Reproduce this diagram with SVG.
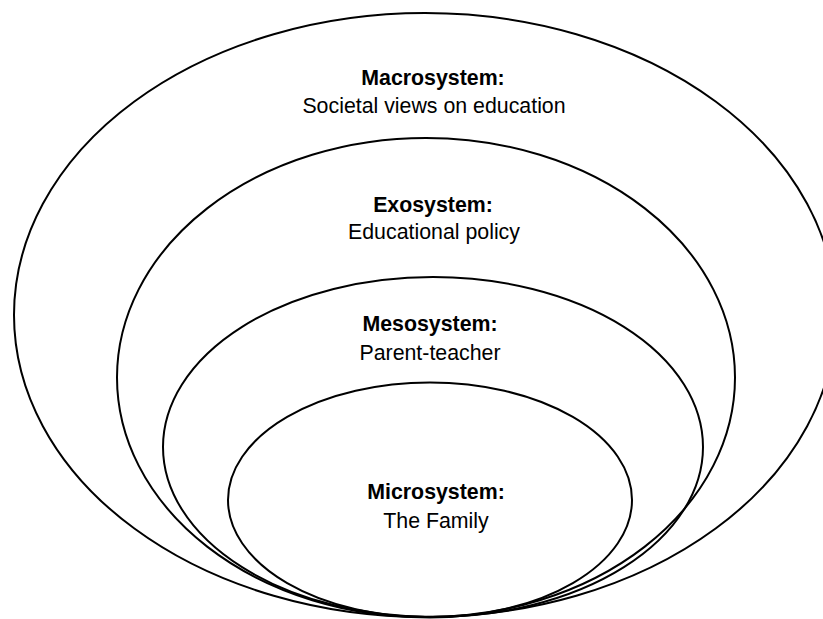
<svg xmlns="http://www.w3.org/2000/svg" width="823" height="619" viewBox="0 0 823 619">
<style>
.ring{fill:none;stroke:#000;stroke-width:2}
.t{font-family:"Liberation Sans",Arial,sans-serif;font-size:21.33px;text-anchor:middle;fill:#000}
.b{font-weight:bold}
</style>
<rect width="823" height="619" fill="#fff"/>
<g id="macrosystem">
<ellipse class="ring" cx="425" cy="315" rx="411" ry="302"/>
<text class="t b" x="433" y="85">Macrosystem:</text>
<text class="t" x="434" y="113">Societal views on education</text>
</g>
<g id="exosystem">
<ellipse class="ring" cx="426" cy="377.5" rx="309" ry="239.5"/>
<text class="t b" x="433" y="212">Exosystem:</text>
<text class="t" x="434" y="239">Educational policy</text>
</g>
<g id="mesosystem">
<ellipse class="ring" cx="433" cy="447" rx="270" ry="170"/>
<text class="t b" x="430" y="331">Mesosystem:</text>
<text class="t" x="430" y="360">Parent-teacher</text>
</g>
<g id="microsystem">
<ellipse class="ring" cx="430" cy="500" rx="202" ry="117.5"/>
<text class="t b" x="436" y="499">Microsystem:</text>
<text class="t" x="436" y="528">The Family</text>
</g>
<g id="connectors"></g>
</svg>
